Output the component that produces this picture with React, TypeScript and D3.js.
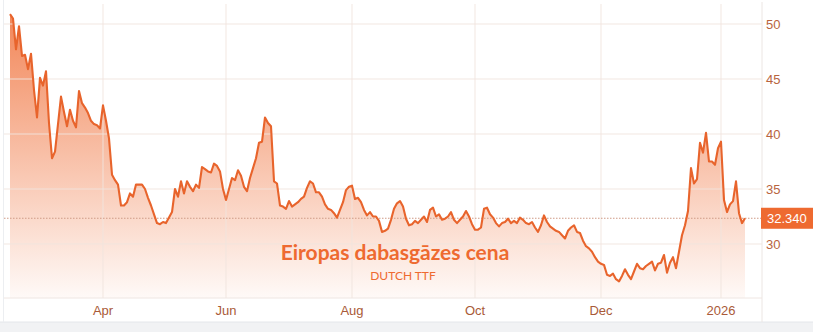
import React from "react";
import * as d3 from "d3";

const W = 813;
const H = 332;

// TTF price, sampled at uniform steps across the chart
const prices: number[] = [
  50.9, 50.5, 47.7, 49.8, 47.1, 47.2, 45.9, 47.3, 44.0, 41.5,
  45.1, 44.4, 45.7, 41.0, 37.8, 38.4, 40.9, 43.4, 42.0, 40.7,
  42.2, 41.2, 40.6, 43.9, 42.8, 42.4, 41.9, 41.2, 40.9, 40.8,
  40.5, 42.6, 41.2, 39.6, 36.3, 35.8, 35.4, 33.5, 33.5, 33.8,
  34.6, 34.3, 35.4, 35.4, 35.4, 35.0, 34.2, 33.5, 32.7, 31.9,
  31.8, 32.0, 31.9, 32.4, 32.9, 35.0, 34.3, 35.7, 34.6, 35.7,
  35.2, 34.8, 35.4, 35.1, 37.0, 36.8, 36.6, 36.5, 37.3, 37.1,
  36.6, 35.0, 34.0, 35.0, 36.0, 35.8, 36.7, 36.2, 35.2, 34.8,
  36.0, 36.9, 37.8, 39.2, 39.3, 41.5, 41.0, 40.7, 35.7, 35.5,
  33.5, 33.4, 33.2, 33.9, 33.4, 33.6, 33.8, 34.1, 34.3, 35.1,
  35.7, 35.5, 34.7, 34.7, 34.3, 33.6, 33.2, 33.1, 32.8, 32.4,
  33.1, 33.8, 34.9, 35.2, 35.3, 34.1, 34.2, 33.8, 33.1, 32.6,
  32.9, 32.5, 32.5, 32.1, 31.1, 31.2, 31.4, 32.2, 33.2, 33.7,
  33.9, 33.4, 32.3, 31.7, 31.8, 32.1, 31.9, 32.2, 32.5, 32.0,
  33.1, 33.3, 32.5, 32.7, 32.2, 32.3, 32.5, 32.9, 32.2, 31.9,
  32.2, 32.5, 33.0, 32.5, 31.8, 31.3, 31.3, 31.5, 33.2, 33.3,
  32.7, 32.4, 31.9, 31.6, 31.9, 32.0, 32.3, 31.9, 32.1, 31.9,
  32.4, 32.2, 31.9, 31.8, 32.0, 31.5, 31.1, 31.7, 32.6, 32.0,
  31.6, 31.4, 31.2, 31.1, 30.8, 30.5, 31.2, 31.5, 31.7, 31.1,
  31.0, 30.3, 29.8, 29.6, 29.3, 28.8, 28.4, 28.2, 28.1, 27.2,
  27.1, 27.3, 26.8, 26.6, 27.1, 27.7, 27.2, 26.8, 27.5, 28.2,
  27.8, 27.7, 28.0, 28.2, 28.4, 27.6, 28.2, 28.3, 29.0, 27.4,
  28.3, 28.8, 27.8, 29.3, 30.8, 31.7, 33.0, 36.9, 35.5, 35.9,
  39.2, 38.3, 40.1, 37.5, 37.5, 37.2, 38.7, 39.3, 34.0, 32.9,
  33.6, 33.9, 35.7, 32.8, 31.9, 32.34,
];

const xTickLabels: string[] = ["Apr", "Jun", "Aug", "Oct", "Dec", "2026"];
const xTickIndex: number[] = [31, 72, 114, 155, 197, 237];
const yTicks: number[] = [30, 35, 40, 45, 50];
const lastPrice = 32.34;
const title = "Eiropas dabasgāzes cena";
const subtitle = "DUTCH TTF";

const ORANGE = "#ee6a30";
const LINE = "#e8642c";
const GRID = "#f1e4de";
const LABEL = "#b8643e";
const FONT = "'Liberation Sans', Arial, sans-serif";

export default function App() {
  const plotLeft = 10;
  const plotRight = 762;
  const plotTop = 4;
  const plotBottom = 298;

  const x = d3.scaleLinear().domain([0, prices.length - 1]).range([10, 745]);
  const y = d3.scaleLinear().domain([25, 50]).range([299, 24]);

  const line = d3
    .line<number>()
    .x((_, i) => x(i))
    .y((d) => y(d));
  const area = d3
    .area<number>()
    .x((_, i) => x(i))
    .y0(plotBottom)
    .y1((d) => y(d));

  return (
    <svg
      width={W}
      height={H}
      style={{ position: "absolute", left: 0, top: 0, background: "#fff" }}
      fontFamily={FONT}
    >
      <defs>
        <linearGradient
          id="fillGrad"
          gradientUnits="userSpaceOnUse"
          x1={0}
          x2={0}
          y1={12}
          y2={plotBottom}
        >
          <stop offset="0%" stopColor="#f07540" stopOpacity={0.88} />
          <stop offset="100%" stopColor="#f07540" stopOpacity={0.04} />
        </linearGradient>
      </defs>

      {/* outer frame */}
      <rect x={0} y={322} width={W} height={10} fill="#f1f2f4" />
      <line x1={0} x2={W} y1={322} y2={322} stroke="#e4e6ea" />
      <line x1={3.5} x2={3.5} y1={0} y2={322} stroke="#eceef1" />

      {/* area */}
      <path d={area(prices) ?? ""} fill="url(#fillGrad)" />

      {/* horizontal grid */}
      {yTicks.map((t) => (
        <line
          key={"h" + t}
          x1={plotLeft - 6}
          x2={plotRight}
          y1={y(t)}
          y2={y(t)}
          stroke={GRID}
          strokeOpacity={0.9}
        />
      ))}
      {/* vertical grid */}
      {xTickIndex.map((i) => (
        <line
          key={"v" + i}
          x1={x(i)}
          x2={x(i)}
          y1={plotTop}
          y2={plotBottom}
          stroke={GRID}
          strokeOpacity={0.9}
        />
      ))}
      <line x1={plotRight} x2={plotRight} y1={plotTop - 2} y2={plotBottom + 24} stroke="#ece6e3" />
      <line x1={plotLeft - 6} x2={plotRight} y1={plotBottom} y2={plotBottom} stroke="#efe6e2" />

      {/* last price dotted line */}
      <line
        x1={plotLeft - 6}
        x2={plotRight}
        y1={y(lastPrice)}
        y2={y(lastPrice)}
        stroke="#cf9b86"
        strokeWidth={1}
        strokeDasharray="1.5,1.5"
      />

      {/* price line */}
      <path
        d={line(prices) ?? ""}
        fill="none"
        stroke={LINE}
        strokeWidth={2.1}
        strokeLinejoin="round"
      />

      {/* y axis labels */}
      {yTicks.map((t) => (
        <text
          key={"yl" + t}
          x={766}
          y={y(t)}
          dy="0.35em"
          fontSize={13}
          fill={LABEL}
        >
          {t}
        </text>
      ))}

      {/* x axis labels */}
      {xTickLabels.map((l, k) => (
        <text
          key={"xl" + l}
          x={x(xTickIndex[k])}
          y={315}
          textAnchor="middle"
          fontSize={13}
          fill="#a95a38"
        >
          {l}
        </text>
      ))}

      {/* last price label */}
      <rect x={761} y={y(lastPrice) - 10.5} width={52} height={21} fill={ORANGE} />
      <text
        x={767}
        y={y(lastPrice)}
        dy="0.35em"
        fontSize={13}
        fill="#fff"
      >
        {lastPrice.toFixed(3)}
      </text>

      {/* title */}
      <text
        x={395}
        y={260}
        textAnchor="middle"
        fontSize={21}
        fontWeight={700}
        fontFamily="Lato, 'Open Sans', sans-serif"
        fill={ORANGE}
      >
        {title}
      </text>
      <text
        x={403}
        y={280}
        textAnchor="middle"
        fontSize={12}
        fontFamily="Lato, 'Open Sans', sans-serif"
        fill={ORANGE}
      >
        {subtitle}
      </text>
    </svg>
  );
}
